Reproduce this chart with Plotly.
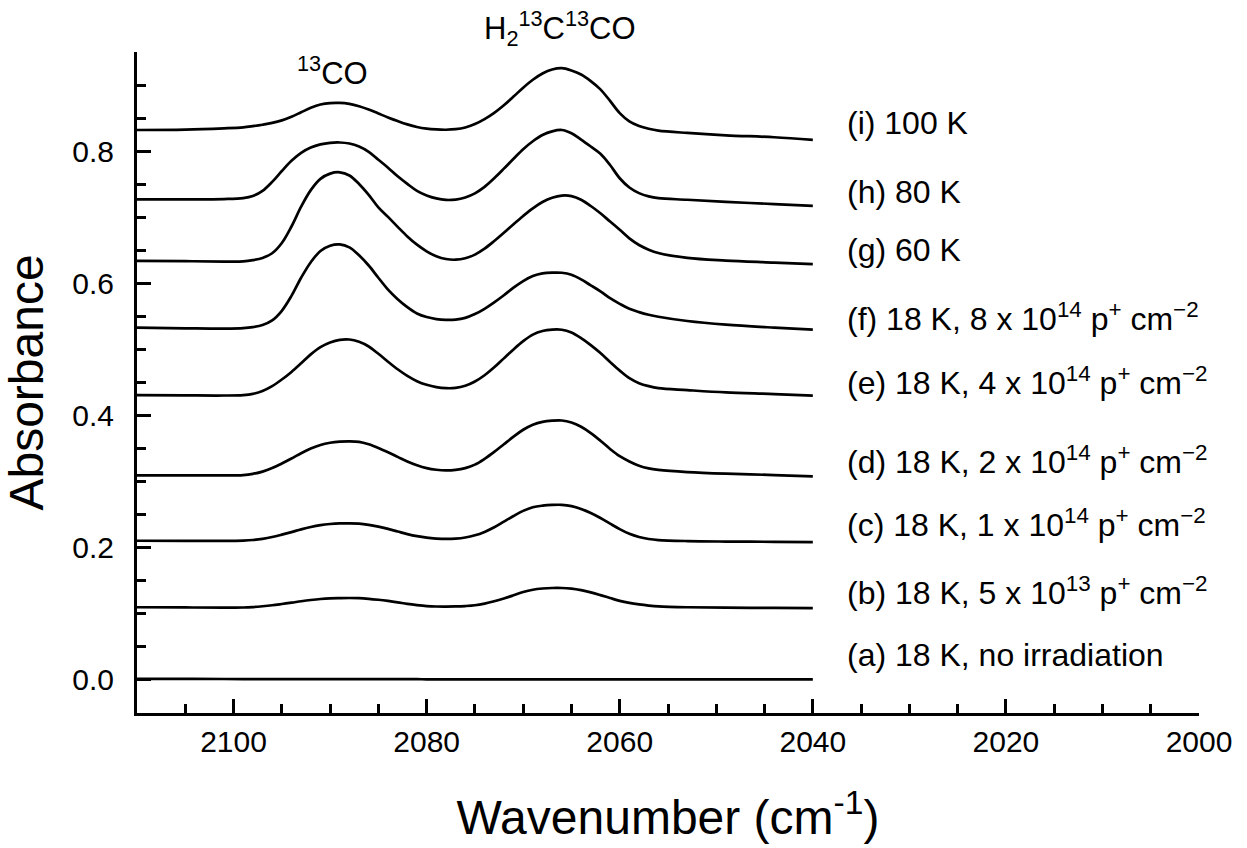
import plotly.graph_objects as go

# ---------------- data ----------------
wavenumber = [2110, 2105, 2101, 2099, 2098, 2097, 2096, 2095, 2094, 2093,
              2092, 2091, 2090, 2089, 2088, 2087, 2086, 2085, 2084, 2083,
              2082, 2081, 2080, 2079, 2078, 2077, 2076, 2075, 2074, 2073,
              2072, 2071, 2070, 2069, 2068, 2067, 2066, 2065, 2064, 2063,
              2062, 2061, 2060, 2059, 2058, 2057, 2056, 2053, 2049, 2044, 2040]

abs_a = [0.0015, 0.0015, 0.0014, 0.0013, 0.0013, 0.0013, 0.0013, 0.0012, 0.0012, 0.0012,
         0.0012, 0.0012, 0.0012, 0.0012, 0.0011, 0.0011, 0.0011, 0.0011, 0.0011, 0.0011,
         0.0011, 0.0011, 0.0010, 0.0010, 0.0010, 0.0010, 0.0010, 0.0010, 0.0010, 0.0010,
         0.0010, 0.0010, 0.0010, 0.0010, 0.0010, 0.0010, 0.0010, 0.0010, 0.0010, 0.0010,
         0.0010, 0.0010, 0.0010, 0.0010, 0.0010, 0.0010, 0.0010, 0.0010, 0.0010, 0.0010, 0.0010]

abs_b = [0.1100, 0.1097, 0.1093, 0.1096, 0.1103, 0.1115, 0.1130, 0.1149, 0.1169, 0.1191,
         0.1210, 0.1225, 0.1234, 0.1238, 0.1240, 0.1238, 0.1228, 0.1213, 0.1195, 0.1174,
         0.1150, 0.1132, 0.1118, 0.1111, 0.1110, 0.1112, 0.1118, 0.1130, 0.1155, 0.1190,
         0.1232, 0.1280, 0.1330, 0.1365, 0.1383, 0.1391, 0.1391, 0.1381, 0.1358, 0.1325,
         0.1284, 0.1240, 0.1197, 0.1165, 0.1142, 0.1125, 0.1113, 0.1100, 0.1093, 0.1089, 0.1086]

abs_c = [0.2106, 0.2104, 0.2103, 0.2108, 0.2117, 0.2135, 0.2162, 0.2198, 0.2237, 0.2278,
         0.2314, 0.2342, 0.2359, 0.2368, 0.2370, 0.2366, 0.2347, 0.2319, 0.2285, 0.2246,
         0.2207, 0.2175, 0.2152, 0.2139, 0.2133, 0.2138, 0.2155, 0.2188, 0.2240, 0.2310,
         0.2395, 0.2480, 0.2558, 0.2613, 0.2637, 0.2648, 0.2649, 0.2630, 0.2587, 0.2525,
         0.2450, 0.2365, 0.2282, 0.2210, 0.2162, 0.2132, 0.2116, 0.2101, 0.2094, 0.2090, 0.2086]

abs_d = [0.3096, 0.3094, 0.3094, 0.3100, 0.3118, 0.3152, 0.3205, 0.3275, 0.3350, 0.3430,
         0.3500, 0.3555, 0.3588, 0.3605, 0.3610, 0.3602, 0.3565, 0.3510, 0.3445, 0.3375,
         0.3305, 0.3248, 0.3205, 0.3180, 0.3170, 0.3178, 0.3205, 0.3258, 0.3345, 0.3450,
         0.3565, 0.3680, 0.3785, 0.3862, 0.3905, 0.3922, 0.3925, 0.3895, 0.3830, 0.3735,
         0.3620, 0.3495, 0.3385, 0.3305, 0.3240, 0.3200, 0.3178, 0.3145, 0.3120, 0.3100, 0.3080]

abs_e = [0.4310, 0.4305, 0.4303, 0.4310, 0.4328, 0.4372, 0.4445, 0.4545, 0.4660, 0.4790,
         0.4925, 0.5035, 0.5105, 0.5145, 0.5150, 0.5115, 0.5045, 0.4935, 0.4815, 0.4700,
         0.4600, 0.4520, 0.4465, 0.4430, 0.4414, 0.4418, 0.4450, 0.4515, 0.4610, 0.4730,
         0.4865, 0.5000, 0.5125, 0.5225, 0.5280, 0.5300, 0.5298, 0.5255, 0.5170, 0.5065,
         0.4945, 0.4810, 0.4680, 0.4565, 0.4490, 0.4445, 0.4415, 0.4385, 0.4350, 0.4325, 0.4300]

abs_f = [0.5330, 0.5320, 0.5315, 0.5322, 0.5338, 0.5370, 0.5440, 0.5585, 0.5810, 0.6085,
         0.6320, 0.6490, 0.6570, 0.6590, 0.6545, 0.6425, 0.6270, 0.6085, 0.5905, 0.5760,
         0.5640, 0.5545, 0.5490, 0.5460, 0.5448, 0.5452, 0.5478, 0.5535, 0.5615, 0.5712,
         0.5820, 0.5935, 0.6035, 0.6110, 0.6150, 0.6162, 0.6160, 0.6130, 0.6060, 0.5970,
         0.5880, 0.5775, 0.5690, 0.5615, 0.5565, 0.5525, 0.5495, 0.5430, 0.5375, 0.5330, 0.5300]

abs_g = [0.6340, 0.6335, 0.6330, 0.6332, 0.6351, 0.6385, 0.6455, 0.6610, 0.6860, 0.7160,
         0.7410, 0.7580, 0.7660, 0.7680, 0.7632, 0.7504, 0.7339, 0.7150, 0.7005, 0.6855,
         0.6710, 0.6585, 0.6485, 0.6410, 0.6368, 0.6358, 0.6380, 0.6435, 0.6525, 0.6640,
         0.6765, 0.6895, 0.7020, 0.7135, 0.7230, 0.7295, 0.7328, 0.7320, 0.7265, 0.7170,
         0.7060, 0.6935, 0.6810, 0.6680, 0.6580, 0.6510, 0.6460, 0.6385, 0.6345, 0.6315, 0.6290]

abs_h = [0.7270, 0.7270, 0.7275, 0.7290, 0.7322, 0.7400, 0.7535, 0.7700, 0.7855, 0.7975,
         0.8055, 0.8103, 0.8126, 0.8131, 0.8115, 0.8070, 0.7990, 0.7870, 0.7750, 0.7620,
         0.7505, 0.7400, 0.7330, 0.7285, 0.7262, 0.7268, 0.7300, 0.7362, 0.7460, 0.7590,
         0.7735, 0.7885, 0.8030, 0.8150, 0.8245, 0.8300, 0.8320, 0.8270, 0.8175, 0.8070,
         0.7960, 0.7790, 0.7590, 0.7450, 0.7365, 0.7315, 0.7288, 0.7265, 0.7232, 0.7200, 0.7172]

abs_i = [0.8320, 0.8325, 0.8345, 0.8360, 0.8378, 0.8400, 0.8427, 0.8465, 0.8520, 0.8588,
         0.8655, 0.8705, 0.8728, 0.8730, 0.8715, 0.8680, 0.8630, 0.8570, 0.8510, 0.8455,
         0.8405, 0.8365, 0.8340, 0.8328, 0.8324, 0.8332, 0.8358, 0.8410, 0.8485, 0.8580,
         0.8695, 0.8825, 0.8960, 0.9080, 0.9175, 0.9235, 0.9255, 0.9220, 0.9160, 0.9060,
         0.8935, 0.8760, 0.8575, 0.8450, 0.8380, 0.8338, 0.8310, 0.8275, 0.8240, 0.8210, 0.8170]

series = [abs_a, abs_b, abs_c, abs_d, abs_e, abs_f, abs_g, abs_h, abs_i]

curve_labels = [
    "(a) 18 K, no irradiation",
    "(b) 18 K, 5 x 10<sup>13</sup> p<sup>+</sup> cm<sup>\u22122</sup>",
    "(c) 18 K, 1 x 10<sup>14</sup> p<sup>+</sup> cm<sup>\u22122</sup>",
    "(d) 18 K, 2 x 10<sup>14</sup> p<sup>+</sup> cm<sup>\u22122</sup>",
    "(e) 18 K, 4 x 10<sup>14</sup> p<sup>+</sup> cm<sup>\u22122</sup>",
    "(f) 18 K, 8 x 10<sup>14</sup> p<sup>+</sup> cm<sup>\u22122</sup>",
    "(g) 60 K",
    "(h) 80 K",
    "(i) 100 K",
]
label_y = [0.037, 0.135, 0.237, 0.333, 0.452, 0.5485, 0.650, 0.738, 0.842]
label_x = 2036.7

peak_labels = ["<sup>13</sup>CO", "H<sub>2</sub><sup>13</sup>C<sup>13</sup>CO"]
peak_x = [2089.7, 2066.2]
peak_y_paper = [0.972, 1.035]

# ---------------- figure ----------------
FONT = "Liberation Sans, Arial, sans-serif"

fig = go.Figure()
for ys in series:
    fig.add_trace(go.Scatter(
        x=wavenumber, y=ys, mode="lines",
        line=dict(color="black", width=2.7, shape="spline", smoothing=1.0),
        showlegend=False, hoverinfo="skip",
    ))

annotations = []
for txt, yv in zip(curve_labels, label_y):
    annotations.append(dict(
        x=label_x, y=yv, xref="x", yref="y", text=txt, showarrow=False,
        xanchor="left", yanchor="middle",
        font=dict(family=FONT, size=32, color="black"),
    ))
for txt, xv, yv in zip(peak_labels, peak_x, peak_y_paper):
    annotations.append(dict(
        x=xv, y=yv, xref="x", yref="paper", text=txt, showarrow=False,
        xanchor="center", yanchor="middle",
        font=dict(family=FONT, size=31, color="black"),
    ))

fig.update_layout(
    width=1247, height=848,
    margin=dict(l=137, r=48, t=52, b=135),
    paper_bgcolor="white", plot_bgcolor="white",
    font=dict(family=FONT, color="black"),
    annotations=annotations,
    xaxis=dict(
        range=[2110, 2000], tickmode="linear", tick0=2000, dtick=20,
        ticks="inside", ticklen=14, tickwidth=2.5, tickcolor="black",
        showline=True, linewidth=3, linecolor="black",
        showgrid=False, zeroline=False, mirror=False,
        minor=dict(tickmode="linear", tick0=2000, dtick=5, ticks="inside",
                   ticklen=9, tickwidth=2.5, tickcolor="black", showgrid=False),
        tickfont=dict(family=FONT, size=30, color="black"),
        ticklabelstandoff=0,
        title=dict(text="Wavenumber (cm<sup>-1</sup>)",
                   font=dict(family=FONT, size=48, color="black"), standoff=44),
    ),
    yaxis=dict(
        range=[-0.05, 0.95], tickmode="linear", tick0=0, dtick=0.2, tickformat=".1f",
        ticks="inside", ticklen=14, tickwidth=2.5, tickcolor="black",
        showline=True, linewidth=3, linecolor="black",
        showgrid=False, zeroline=False, mirror=False,
        minor=dict(tickmode="linear", tick0=0, dtick=0.05, ticks="inside",
                   ticklen=9, tickwidth=2.5, tickcolor="black", showgrid=False),
        tickfont=dict(family=FONT, size=30, color="black"),
        ticklabelstandoff=14,
        title=dict(text="Absorbance",
                   font=dict(family=FONT, size=48, color="black"), standoff=22),
    ),
)

fig.write_html("out.html")
